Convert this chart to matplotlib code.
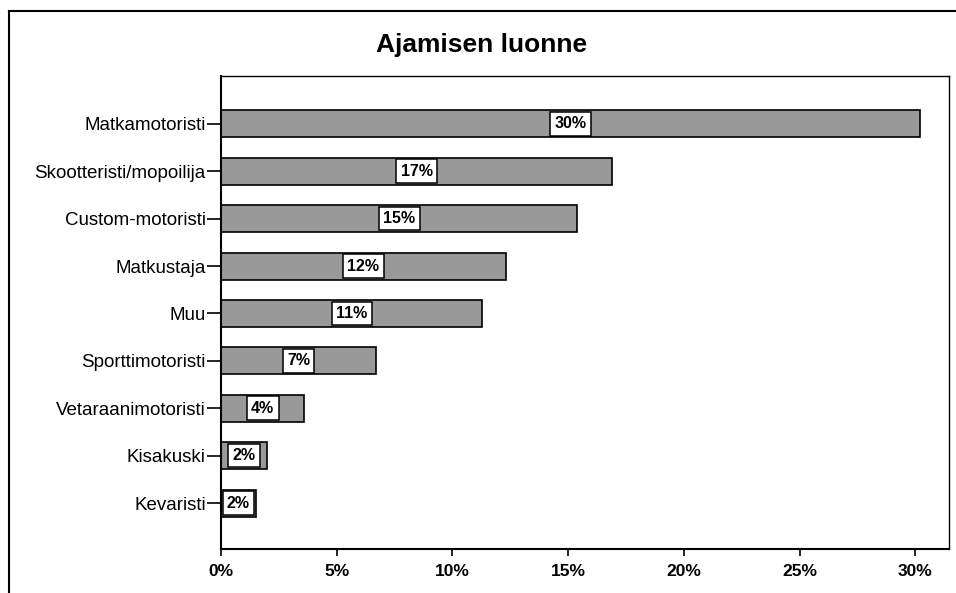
import matplotlib.pyplot as plt
from matplotlib.lines import Line2D

plt.rcParams["font.family"] = ["Liberation Sans", "DejaVu Sans"]

cats = ["Matkamotoristi", "Skootteristi/mopoilija", "Custom-motoristi",
        "Matkustaja", "Muu", "Sporttimotoristi", "Vetaraanimotoristi",
        "Kisakuski", "Kevaristi"]
vals = [30.2, 16.9, 15.4, 12.3, 11.3, 6.7, 3.6, 2.0, 1.5]
lbls = ["30%", "17%", "15%", "12%", "11%", "7%", "4%", "2%", "2%"]
xt = [0, 5, 10, 15, 20, 25, 30]

W, H = 956, 593


def main():
    fig = plt.figure(figsize=(W / 100, H / 100), dpi=100)
    # axes box in pixels: left 221, right 949, top 76, bottom 549
    ax = fig.add_axes([221 / W, 1 - 549 / H, 728 / W, 473 / H])

    y = list(range(len(cats)))
    ax.barh(y, vals, height=0.57, color="#999999", edgecolor="black", linewidth=1.2)
    for i, v in enumerate(vals):
        ax.text(v / 2, i, lbls[i], ha="center", va="center", fontsize=11.5,
                fontweight="bold",
                bbox=dict(boxstyle="square,pad=0.27", fc="white", ec="black", lw=1.1))

    ax.set_ylim(8.97, -1.01)
    ax.set_xlim(0, 31.46)
    ax.set_yticks(y)
    ax.set_yticklabels(cats, fontsize=13.5)
    ax.set_xticks(xt)
    ax.set_xticklabels([f"{t}%" for t in xt], fontsize=12.5, fontweight="bold")
    ax.tick_params(axis="y", length=10, width=1.2, pad=1)
    ax.tick_params(axis="x", length=5, width=1.2, pad=6)
    for s in ax.spines.values():
        s.set_linewidth(1.0)
    ax.spines["left"].set_linewidth(1.5)
    ax.spines["bottom"].set_linewidth(1.5)

    fig.text(482 / W, 1 - 52 / H, "Ajamisen luonne",
             ha="center", va="baseline", fontsize=19, fontweight="bold")

    # outer frame (cropped on right and bottom)
    fig.add_artist(Line2D([9 / W, 1], [1 - 11 / H, 1 - 11 / H],
                          transform=fig.transFigure, color="black", lw=1.5))
    fig.add_artist(Line2D([9 / W, 9 / W], [0, 1 - 11 / H],
                          transform=fig.transFigure, color="black", lw=1.5))

    fig.savefig("out.png", dpi=100)


if __name__ == "__main__":
    main()
